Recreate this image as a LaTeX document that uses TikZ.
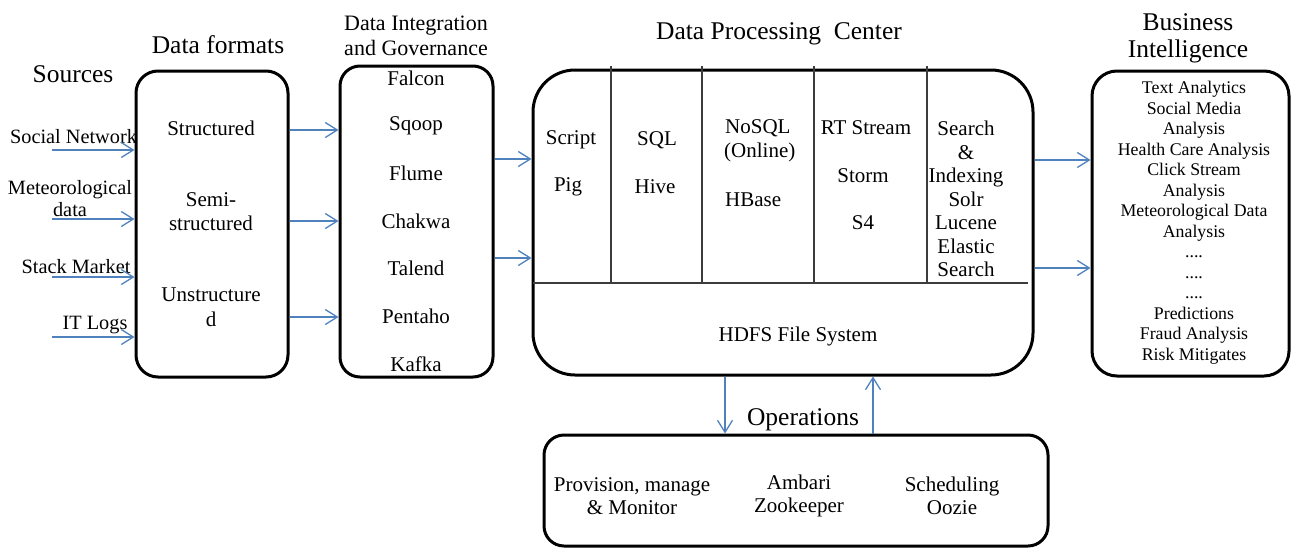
\documentclass[tikz,border=0pt]{standalone}
\usepackage{fontspec}
\setmainfont{Liberation Serif}
\usetikzlibrary{arrows.meta}
\definecolor{arrowblue}{RGB}{79,129,189}
\definecolor{divgray}{RGB}{60,60,60}
\tikzset{
  box/.style={draw, line width=3pt, rounded corners=#1, inner sep=0pt},
  box/.default=20pt,
  arr/.style={draw=arrowblue, line width=1.3pt, -{Straight Barb[length=12pt,width=15pt,line width=1.3pt]}},
  divider/.style={draw=divgray, line width=1.5pt},
  txt/.style={inner sep=0pt, align=center, font=\fontsize{21}{23.5}\selectfont},
  srctxt/.style={inner sep=0pt, align=center, font=\fontsize{20.3}{22}\selectfont},
  bitxt/.style={inner sep=0pt, align=center, font=\fontsize{17.8}{20.5}\selectfont},
  title/.style={inner sep=0pt, align=center, font=\fontsize{25.5}{27}\selectfont},
  subtitle/.style={inner sep=0pt, align=center, font=\fontsize{22}{25}\selectfont},
}
\begin{document}
\begin{tikzpicture}[x=1pt,y=-1pt]
\useasboundingbox (0,0) rectangle (1292,549);
% boxes
\node[box=22pt, minimum width=152pt, minimum height=306pt] (df) at (212,224) {};
\node[box=20pt, minimum width=153pt, minimum height=311pt] (dig) at (416.5,221.5) {};
\node[box=42pt, minimum width=500pt, minimum height=305pt] (dpc) at (783,222.5) {};
\node[box=25pt, minimum width=197pt, minimum height=305pt] (bi) at (1190.5,223.5) {};
\node[box=20pt, minimum width=504pt, minimum height=111pt] (ops) at (796,490.5) {};
% processing center dividers
\foreach \x in {611,702,814,927} \draw[divider] (\x,66) -- (\x,283);
\draw[divider] (533,283) -- (1028,283);
% titles
\node[title] (tsrc) at (73,74) {Sources};
\node[title] (tdf) at (218,45) {Data formats};
\node[subtitle] (tdig) at (416,35.5) {Data Integration\\and Governance};
\node[title] (tdpc) at (779,34) {Data Processing\ \ Center};
\node[title] (tbi) at (1188,38.5) {Business\\Intelligence};
\node[title] (tops) at (803,420) {Operations};
% sources
\node[srctxt] (src1) at (73.5,137) {Social Network};
\node[srctxt] (src2) at (70,199) {Meteorological\\data};
\node[srctxt] (src3) at (76,267) {Stack Market};
\node[srctxt] (src4) at (95,325) {IT Logs};
\coordinate (s1) at (52,150);
\coordinate (s2) at (52,219);
\coordinate (s3) at (52,277);
\coordinate (s4) at (52,337);
\foreach \s in {s1,s2,s3,s4} \draw[arr] (\s) -- (\s -| df.west);
% data formats
\node[txt] (f1) at (211,128) {Structured};
\node[txt] (f2) at (211,211.5) {Semi-\\structured};
\node[txt, font=\fontsize{21}{25}\selectfont] (f3) at (211,307.5) {Unstructure\\d};
\coordinate (h1) at (0,130);
\coordinate (h2) at (0,221);
\coordinate (h3) at (0,317);
\foreach \h in {h1,h2,h3} \draw[arr] (df.east |- \h) -- (dig.west |- \h);
% integration tools
\foreach \t [count=\i] in {Falcon,Sqoop,Flume,Chakwa,Talend,Pentaho,Kafka}
  \node[txt] (g\i) at (416,30.3+47.7*\i) {\t};
\coordinate (k1) at (0,159);
\coordinate (k2) at (0,258);
\foreach \k in {k1,k2} \draw[arr] (dig.east |- \k) -- (dpc.west |- \k);
% processing columns
\node[txt] (p1a) at (571,140) {Script};
\node[txt] (p1b) at (568,187) {Pig};
\node[txt] (p2a) at (657,140) {SQL};
\node[txt] (p2b) at (655,187) {Hive};
\node[txt, anchor=west] (p3a) at (725,128) {NoSQL};
\node[txt, anchor=west] (p3b) at (724,152) {(Online)};
\node[txt, anchor=west] (p3c) at (725,200) {HBase};
\node[txt] (p4a) at (866,128) {RT Stream};
\node[txt] (p4b) at (863,176) {Storm};
\node[txt] (p4c) at (863,223) {S4};
\node[txt] (p5) at (966,199) {Search\\\&\\Indexing\\Solr\\Lucene\\Elastic\\Search};
\node[txt] (hdfs) at (798,336) {HDFS File System};
\coordinate (m1) at (0,160);
\coordinate (m2) at (0,268);
\foreach \m in {m1,m2} \draw[arr] (dpc.east |- \m) -- (bi.west |- \m);
% business intelligence
\node[bitxt] (bitext) at (1194,222.5) {Text Analytics\\Social Media\\Analysis\\Health Care Analysis\\Click Stream\\Analysis\\Meteorological Data\\Analysis\\....\\....\\....\\Predictions\\Fraud Analysis\\Risk Mitigates};
% operations
\coordinate (xd) at (725,0);
\coordinate (xu) at (873,0);
\draw[arr] (dpc.south -| xd) -- (ops.north -| xd);
\draw[arr] (ops.north -| xu) -- (dpc.south -| xu);
\node[txt] (o1) at (632,496) {Provision, manage\\\& Monitor};
\node[txt] (o2) at (799,496) {Ambari\\Zookeeper};
\node[txt] (o3) at (952,496) {Scheduling\\Oozie};
\end{tikzpicture}
\end{document}
